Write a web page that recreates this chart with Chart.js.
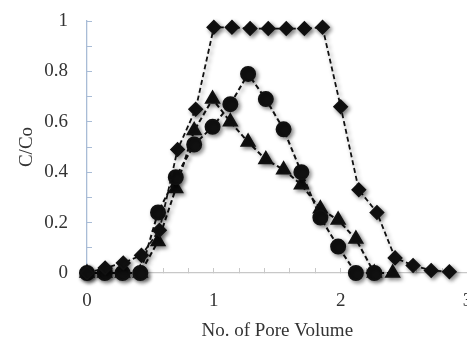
<!DOCTYPE html>
<html>
<head>
<meta charset="utf-8">
<script src="https://cdn.jsdelivr.net/npm/chart.js@4"></script>
<style>
  html, body { margin: 0; padding: 0; background: #fff; overflow: hidden; width: 467px; height: 338px; }
  #wrap { width: 467px; height: 338px; overflow: hidden; }
</style>
</head>
<body>
<div id="wrap"><canvas id="c" width="467" height="338"></canvas></div>
<script>
// Diamonds series
const diamondX = [0, 0.143, 0.286, 0.429, 0.571, 0.714, 0.857, 1.0, 1.143, 1.286, 1.429, 1.571, 1.714, 1.857, 2.0, 2.143, 2.286, 2.429, 2.571, 2.714, 2.857];
const diamondY = [0, 0.02, 0.04, 0.07, 0.17, 0.49, 0.65, 0.975, 0.975, 0.97, 0.97, 0.97, 0.97, 0.975, 0.66, 0.33, 0.24, 0.06, 0.03, 0.01, 0.005];
// Circles series
const circleX = [0, 0.14, 0.28, 0.42, 0.56, 0.70, 0.845, 0.99, 1.13, 1.27, 1.41, 1.55, 1.69, 1.84, 1.98, 2.12, 2.265];
const circleY = [0, 0, 0, 0, 0.24, 0.38, 0.51, 0.58, 0.67, 0.79, 0.69, 0.57, 0.40, 0.22, 0.105, 0, 0];
// Triangles series
const triangleX = [0, 0.14, 0.28, 0.42, 0.56, 0.70, 0.845, 0.99, 1.13, 1.27, 1.41, 1.55, 1.69, 1.84, 1.98, 2.12, 2.265, 2.41];
const triangleY = [0, 0, 0, 0, 0.125, 0.335, 0.565, 0.69, 0.60, 0.52, 0.45, 0.41, 0.35, 0.255, 0.21, 0.135, 0, 0];
// Axis ticks
const xTickLabels = [0, 1, 2, 3];
const yTickLabels = [0, 0.2, 0.4, 0.6, 0.8, 1];

const toPts = (xs, ys) => xs.map((x, i) => ({ x: x, y: ys[i] }));

const shadowPlugin = {
  id: 'shadow',
  beforeDatasetsDraw(chart) {
    const ctx = chart.ctx;
    ctx.save();
    ctx.shadowColor = 'rgba(0,0,0,0.45)';
    ctx.shadowBlur = 4;
    ctx.shadowOffsetX = 2;
    ctx.shadowOffsetY = 2;
  },
  afterDatasetsDraw(chart) {
    chart.ctx.restore();
  }
};

const serif = '"Liberation Serif", "Times New Roman", serif';
const textColor = '#333';

const common = {
  showLine: true,
  clip: false,
  borderColor: '#111',
  backgroundColor: '#111',
  pointBorderColor: '#111',
  pointBackgroundColor: '#111',
  borderWidth: 2,
  borderDash: [5, 3],
  tension: 0,
  fill: false
};

function config() {
  return {
    type: 'scatter',
    data: {
      datasets: [
        Object.assign({}, common, { label: 'A', data: toPts(diamondX, diamondY), pointStyle: 'rectRot', pointRadius: 6.5, borderWidth: 1.8 }),
        Object.assign({}, common, { label: 'B', data: toPts(circleX, circleY), pointStyle: 'circle', pointRadius: 7 }),
        Object.assign({}, common, { label: 'C', data: toPts(triangleX, triangleY), pointStyle: 'triangle', pointRadius: 7.5 })
      ]
    },
    options: {
      responsive: false,
      animation: false,
      layout: { padding: { top: 21, right: 0, left: 0, bottom: 0 } },
      plugins: { legend: { display: false }, tooltip: { enabled: false } },
      elements: { point: { borderWidth: 1 } },
      scales: {
        x: {
          type: 'linear',
          min: 0, max: 3,
          afterBuildTicks(scale) {
            const t = [];
            for (let i = 0; i <= 15; i++) t.push({ value: i * 0.2 });
            scale.ticks = t;
          },
          afterFit(scale) { scale.height = 65; scale.paddingLeft = 0; scale.paddingRight = 0; },
          ticks: {
            autoSkip: false,
            maxRotation: 0,
            color: textColor,
            padding: 22,
            font: { family: serif, size: 19 },
            callback(v) {
              const r = Math.round(v * 10) / 10;
              return xTickLabels.includes(r) ? String(r) : '';
            }
          },
          grid: { drawOnChartArea: false, drawTicks: true, tickLength: -5, color: '#c8c8c8', lineWidth: 1 },
          border: { color: '#c8c8c8', width: 1.3 },
          title: { display: true, text: 'No. of Pore Volume', color: textColor, font: { family: serif, size: 19 }, padding: { top: 0, bottom: -4 } }
        },
        y: {
          type: 'linear',
          min: 0, max: 1,
          afterBuildTicks(scale) {
            const t = [];
            for (let i = 0; i <= 10; i++) t.push({ value: i * 0.1 });
            scale.ticks = t;
          },
          afterFit(scale) { scale.width = 87; scale.paddingTop = 0; scale.paddingBottom = 0; },
          ticks: {
            autoSkip: false,
            color: textColor,
            padding: 24,
            font: { family: serif, size: 19 },
            callback(v) {
              const r = Math.round(v * 10) / 10;
              return yTickLabels.includes(r) ? String(r) : '';
            }
          },
          grid: { drawOnChartArea: false, drawTicks: true, tickLength: -5, color: '#a9bcd6', lineWidth: 1 },
          border: { color: '#a9bcd6', width: 1.3 },
          title: { display: true, text: 'C/Co', color: textColor, font: { family: serif, size: 19 }, padding: { top: 16, bottom: 0 } }
        }
      }
    },
    plugins: [shadowPlugin]
  };
}

const canvas = document.getElementById('c');
let chart = new Chart(canvas, config());
const targetRight = 467;
const diff = Math.round(targetRight - chart.chartArea.right);
if (diff !== 0) {
  chart.destroy();
  canvas.width = 467 + diff;
  canvas.height = 338;
  canvas.style.width = (467 + diff) + 'px';
  canvas.style.height = '338px';
  chart = new Chart(canvas, config());
}
</script>
</body>
</html>
